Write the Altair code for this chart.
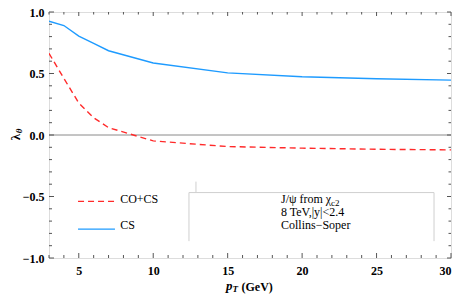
import altair as alt
import pandas as pd

# ---- data ----
pt = [3, 4, 5, 6, 7, 10, 15, 20, 25, 30]
cs = [0.925, 0.89, 0.804, 0.745, 0.685, 0.585, 0.505, 0.473, 0.457, 0.446]
co_cs = [0.664, 0.46, 0.26, 0.14, 0.06, -0.048, -0.094, -0.107, -0.116, -0.121]

x_major = [5, 10, 15, 20, 25, 30]
x_minor = [v for v in range(3, 31) if v % 5 != 0]
y_major = [-1.0, -0.5, 0.0, 0.5, 1.0]
y_minor = [round(-1 + 0.1 * i, 1) for i in range(21) if i % 5 != 0]

# legend (data coordinates)
leg_x = [4.95, 7.43]
leg_text_x = 7.78
leg_y = {"CO+CS": -0.54, "CS": -0.765}
leg_text_y = {"CO+CS": -0.556, "CS": -0.766}

# annotation box (data coordinates)
box_x = [12.4, 28.86]
box_y = [-0.468, -0.863]
stub_x = 12.87
stub_y = [-0.379, -0.468]
note_x = 18.58
note_lines = ["J/ψ from χ", "8 TeV,|y|<2.4", "Collins−Soper"]
note_y = [-0.556, -0.661, -0.766]

RED = "#ff2a2a"
BLUE = "#1e9bff"
FONT = "'Liberation Serif', 'DejaVu Serif', serif"
W, H = 402, 246

xs = alt.Scale(domain=[3, 30], nice=False, zero=False)
ys = alt.Scale(domain=[-1, 1], nice=False)

df = pd.DataFrame({"pt": pt, "cs": cs, "cocs": co_cs})

base = alt.Chart(df)

blue_line = base.mark_line(color=BLUE, strokeWidth=1.4, clip=True).encode(
    x=alt.X("pt:Q", scale=xs,
            axis=alt.Axis(values=x_major, format="d", title=None, grid=False,
                          ticks=False, domain=False, labelPadding=7,
                          labelFont=FONT, labelFontSize=12, labelFontWeight="bold",
                          labelColor="black")),
    y=alt.Y("cs:Q", scale=ys,
            axis=alt.Axis(values=y_major, format=".1f", title=None, grid=False,
                          ticks=False, domain=False, labelPadding=5,
                          labelFont=FONT, labelFontSize=12, labelFontWeight="bold",
                          labelColor="black")),
)
red_line = base.mark_line(color=RED, strokeWidth=1.4, strokeDash=[6, 4], clip=True).encode(
    x=alt.X("pt:Q", scale=xs), y=alt.Y("cocs:Q", scale=ys)
)

zero = alt.Chart(pd.DataFrame({"y": [0.0]})).mark_rule(color="#8a8a8a", strokeWidth=1).encode(
    y=alt.Y("y:Q", scale=ys)
)

# ticks (inward)
tick_color = "#555555"
xmaj = alt.Chart(pd.DataFrame({"v": x_major}))
xmin = alt.Chart(pd.DataFrame({"v": x_minor}))
ymaj = alt.Chart(pd.DataFrame({"v": y_major}))
ymin = alt.Chart(pd.DataFrame({"v": y_minor}))

ticks = [
    xmaj.mark_rule(color=tick_color).encode(x=alt.X("v:Q", scale=xs), y=alt.value(H), y2=alt.value(H - 5)),
    xmin.mark_rule(color=tick_color).encode(x=alt.X("v:Q", scale=xs), y=alt.value(H), y2=alt.value(H - 3)),
    xmaj.mark_rule(color=tick_color).encode(x=alt.X("v:Q", scale=xs), y=alt.value(0), y2=alt.value(4)),
    xmin.mark_rule(color=tick_color).encode(x=alt.X("v:Q", scale=xs), y=alt.value(0), y2=alt.value(2.5)),
    ymaj.mark_rule(color=tick_color).encode(y=alt.Y("v:Q", scale=ys), x=alt.value(0), x2=alt.value(5)),
    ymin.mark_rule(color=tick_color).encode(y=alt.Y("v:Q", scale=ys), x=alt.value(0), x2=alt.value(3)),
    ymaj.mark_rule(color=tick_color).encode(y=alt.Y("v:Q", scale=ys), x=alt.value(W), x2=alt.value(W - 4)),
    ymin.mark_rule(color=tick_color).encode(y=alt.Y("v:Q", scale=ys), x=alt.value(W), x2=alt.value(W - 2.5)),
]

# legend
leg_df = pd.DataFrame({
    "x": [leg_x[0]] * 2, "x2": [leg_x[1]] * 2,
    "y": [leg_y["CO+CS"], leg_y["CS"]],
    "s": ["CO+CS", "CS"],
    "ty": [leg_text_y["CO+CS"], leg_text_y["CS"]],
    "tx": [leg_text_x] * 2,
})
leg_red = alt.Chart(leg_df[leg_df.s == "CO+CS"]).mark_rule(
    color=RED, strokeWidth=1.4, strokeDash=[6, 4]).encode(
    x=alt.X("x:Q", scale=xs), x2="x2:Q", y=alt.Y("y:Q", scale=ys))
leg_blue = alt.Chart(leg_df[leg_df.s == "CS"]).mark_rule(
    color=BLUE, strokeWidth=1.4).encode(
    x=alt.X("x:Q", scale=xs), x2="x2:Q", y=alt.Y("y:Q", scale=ys))
leg_text = alt.Chart(leg_df).mark_text(
    align="left", baseline="alphabetic", font=FONT, fontSize=12, color="black").encode(
    x=alt.X("tx:Q", scale=xs), y=alt.Y("ty:Q", scale=ys), text="s:N")

# annotation box
box_col = "#cfcfcf"
box_left = alt.Chart(pd.DataFrame({"x": [box_x[0]], "y": [box_y[0]], "y2": [box_y[1]]})).mark_rule(
    color=box_col).encode(x=alt.X("x:Q", scale=xs), y=alt.Y("y:Q", scale=ys), y2="y2:Q")
box_right = alt.Chart(pd.DataFrame({"x": [box_x[1]], "y": [box_y[0]], "y2": [box_y[1]]})).mark_rule(
    color=box_col).encode(x=alt.X("x:Q", scale=xs), y=alt.Y("y:Q", scale=ys), y2="y2:Q")
box_top = alt.Chart(pd.DataFrame({"x": [box_x[0]], "x2": [box_x[1]], "y": [box_y[0]]})).mark_rule(
    color=box_col).encode(x=alt.X("x:Q", scale=xs), x2="x2:Q", y=alt.Y("y:Q", scale=ys))
box_stub = alt.Chart(pd.DataFrame({"x": [stub_x], "y": [stub_y[0]], "y2": [stub_y[1]]})).mark_rule(
    color=box_col).encode(x=alt.X("x:Q", scale=xs), y=alt.Y("y:Q", scale=ys), y2="y2:Q")

note_df = pd.DataFrame({"x": [note_x] * 3, "y": note_y, "t": note_lines})
note = alt.Chart(note_df).mark_text(
    align="left", baseline="alphabetic", font=FONT, fontSize=12, color="black").encode(
    x=alt.X("x:Q", scale=xs), y=alt.Y("y:Q", scale=ys), text="t:N")
note_sub = alt.Chart(pd.DataFrame({"x": [note_x], "y": [note_y[0]], "t": ["c2"]})).mark_text(
    align="left", baseline="alphabetic", font=FONT, fontSize=9, color="black", dx=50, dy=2.5).encode(
    x=alt.X("x:Q", scale=xs), y=alt.Y("y:Q", scale=ys), text="t:N")

# axis titles as text pieces
one = pd.DataFrame({"a": [0]})
xt_p = alt.Chart(one).mark_text(align="left", baseline="alphabetic", font=FONT, fontSize=13,
                                fontStyle="italic", fontWeight="bold", color="black").encode(
    x=alt.value(177), y=alt.value(278), text=alt.value("p"))
xt_T = alt.Chart(one).mark_text(align="left", baseline="alphabetic", font=FONT, fontSize=9,
                                fontStyle="italic", fontWeight="bold", color="black").encode(
    x=alt.value(183.5), y=alt.value(280), text=alt.value("T"))
xt_g = alt.Chart(one).mark_text(align="left", baseline="alphabetic", font=FONT, fontSize=12,
                                fontWeight="bold", color="black").encode(
    x=alt.value(192.5), y=alt.value(278.5), text=alt.value("(GeV)"))
yt_l = alt.Chart(one).mark_text(align="center", baseline="middle", font=FONT, fontSize=13,
                                fontWeight="bold", angle=270, color="black", dx=-2).encode(
    x=alt.value(-33), y=alt.value(123), text=alt.value("λ"))
yt_t = alt.Chart(one).mark_text(align="center", baseline="middle", font=FONT, fontSize=9,
                                fontWeight="bold", fontStyle="italic", angle=270, color="black",
                                dx=4, dy=3).encode(
    x=alt.value(-33), y=alt.value(123), text=alt.value("θ"))

chart = alt.layer(
    zero, *ticks, box_stub, box_left, box_right, box_top, note, note_sub,
    leg_red, leg_blue, leg_text, red_line, blue_line,
    xt_p, xt_T, xt_g, yt_l, yt_t,
).properties(
    width=W, height=H,
    autosize=alt.AutoSizeParams(type="none"),
    padding={"left": 41, "top": 4, "right": 5, "bottom": 36},
).configure_view(
    stroke="#555555", strokeWidth=1
).configure(background="white")

chart.save("out.html", embed_options={"renderer": "svg", "actions": False})
